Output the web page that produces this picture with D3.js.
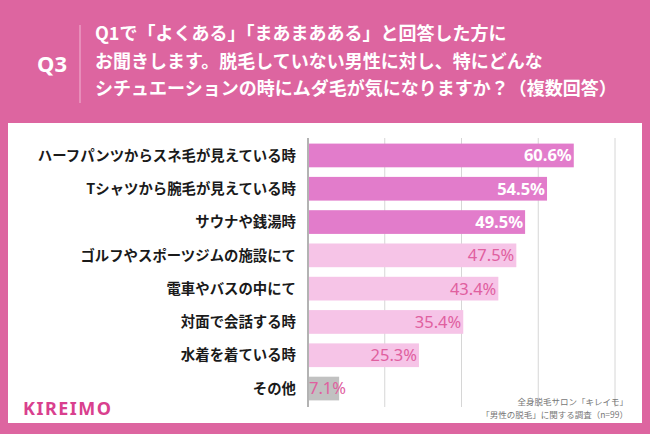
<!DOCTYPE html>
<html><head><meta charset="utf-8">
<script src="https://cdn.jsdelivr.net/npm/d3@7/dist/d3.min.js"></script>
<style>html,body{margin:0;padding:0;background:#dd65a0;}svg{display:block;}</style>
</head><body>
<script>
const categories = ["ハーフパンツからスネ毛が見えている時","Tシャツから腕毛が見えている時","サウナや銭湯時","ゴルフやスポーツジムの施設にて","電車やバスの中にて","対面で会話する時","水着を着ている時","その他"];
const values = [60.6,54.5,49.5,47.5,43.4,35.4,25.3,7.1];
const tickValues = [0,17.5,35,52.5,70];
const titleLines = ["Q1で「よくある」「まあまあある」と回答した方に","お聞きします。脱毛していない男性に対し、特にどんな","シチュエーションの時にムダ毛が気になりますか？（複数回答）"];
const sourceLines = ["全身脱毛サロン「キレイモ」","「男性の脱毛」に関する調査（n=99）"];

const W=650,H=434;
const svg=d3.select("body").append("svg").attr("width",W).attr("height",H);
const font="'Noto Sans CJK JP','Noto Sans',sans-serif";
svg.append("rect").attr("width",W).attr("height",H).attr("fill","#dd65a0");
// header
svg.append("text").attr("x",52).attr("y",72).attr("text-anchor","middle").attr("fill","#fff")
  .attr("font-family","'Noto Sans','Noto Sans CJK JP',sans-serif").attr("font-weight","bold").attr("font-size",22).text("Q3");
svg.append("line").attr("x1",80).attr("x2",80).attr("y1",25).attr("y2",103).attr("stroke","#f2b6d3").attr("stroke-width",1);
titleLines.forEach((t,i)=>{
  svg.append("text").attr("x",95).attr("y",40+i*27.5).attr("fill","#fff").attr("font-family",font)
    .attr("font-weight","bold").attr("font-size",18).text(t);
});
// panel
svg.append("rect").attr("x",8).attr("y",123).attr("width",634).attr("height",300).attr("fill","#fff");

const x=d3.scaleLinear().domain([0,70]).range([308,615]);
const y=d3.scaleBand().domain(categories).range([139,405]).paddingInner(0.288).paddingOuter(0.138);

const g=svg.append("g");
g.selectAll("line.grid").data(tickValues.slice(1)).join("line").attr("class","grid")
  .attr("x1",d=>x(d)).attr("x2",d=>x(d)).attr("y1",138).attr("y2",407)
  .attr("stroke","#d6d6d6").attr("stroke-width",1);

const color=(d,i)=> i<3?"#e27ccb":(i<7?"#f6c4e7":"#c1c1c1");
g.selectAll("rect.bar").data(values).join("rect").attr("class","bar")
  .attr("x",x(0)+1).attr("y",(d,i)=>y(categories[i])).attr("width",d=>x(d)-x(0)-1)
  .attr("height",y.bandwidth()).attr("fill",color);

g.append("line").attr("x1",x(0)).attr("x2",x(0)).attr("y1",138).attr("y2",407).attr("stroke","#9a9a9a").attr("stroke-width",1.5);

g.selectAll("text.cat").data(categories).join("text").attr("class","cat")
  .attr("x",296).attr("y",d=>y(d)+y.bandwidth()/2).attr("dy","0.36em").attr("text-anchor","end")
  .attr("font-family",font).attr("font-weight","bold").attr("font-size",14.4).attr("fill","#1a1a1a").text(d=>d);

g.selectAll("text.val").data(values).join("text").attr("class","val")
  .attr("x",(d,i)=> d<10? x(0)+1 : x(d)-2)
  .attr("text-anchor",d=> d<10?"start":"end")
  .attr("y",(d,i)=>y(categories[i])+y.bandwidth()/2).attr("dy","0.36em")
  .attr("font-family","'Noto Sans',sans-serif").attr("font-size",16.5)
  .attr("font-weight",(d,i)=>i<3?"bold":"normal")
  .attr("fill",(d,i)=>i<3?"#fff":"#e0609f").text(d=>d.toFixed(1)+"%");

sourceLines.forEach((t,i)=>{
  svg.append("text").attr("x",628).attr("y",405+i*13).attr("text-anchor","end").attr("fill","#777")
    .attr("font-family",font).attr("font-size",8.5).text(t);
});
svg.append("text").attr("x",23).attr("y",415).attr("fill","#d9408e").attr("font-family","'Noto Sans',sans-serif")
  .attr("font-weight","bold").attr("font-size",18).attr("letter-spacing",1.5).text("KIREIMO");
</script>
</body></html>
